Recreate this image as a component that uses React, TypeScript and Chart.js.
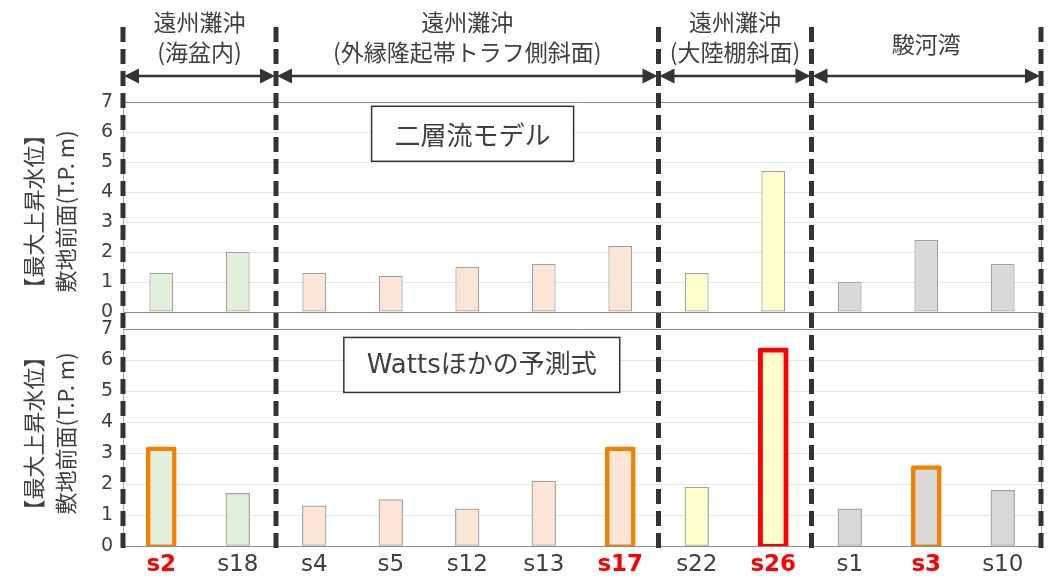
import React, { useEffect, useRef } from "react";
import { Chart, registerables } from "chart.js";

Chart.register(...registerables);

// ---- data ----
const categories = ["s2", "s18", "s4", "s5", "s12", "s13", "s17", "s22", "s26", "s1", "s3", "s10"];
const twoLayerValues = [1.3, 2.0, 1.3, 1.2, 1.5, 1.6, 2.2, 1.3, 4.7, 1.0, 2.4, 1.6];
const wattsValues = [3.1, 1.7, 1.3, 1.5, 1.2, 2.1, 3.1, 1.9, 6.3, 1.2, 2.5, 1.8];
const highlightedLabels = [true, false, false, false, false, false, true, false, true, false, true, false];
const wattsHighlight = ["orange", "", "", "", "", "", "orange", "", "red", "", "orange", ""];
const groupOfCategory = [0, 0, 1, 1, 1, 1, 1, 2, 2, 3, 3, 3];
const groupFills = ["#E2EFDA", "#FBE5D6", "#FFFFCC", "#D9D9D9"];
const groupLabels = [
  ["遠州灘沖", "(海盆内)"],
  ["遠州灘沖", "(外縁隆起帯トラフ側斜面)"],
  ["遠州灘沖", "(大陸棚斜面)"],
  ["駿河湾"],
];
const groupRanges = [
  [0, 1],
  [2, 6],
  [7, 8],
  [9, 11],
];
const panelTitles = ["二層流モデル", "Wattsほかの予測式"];
const yTitle = ["【最大上昇水位】", "敷地前面(T.P. m)"];

const CJK = "'Noto Sans CJK JP', sans-serif";
const LATIN = "'DejaVu Sans', 'Noto Sans CJK JP', sans-serif";
const TEXT = "#404040";
const DARK = "#333333";

const decorPlugin = {
  id: "decor",
  afterDatasetsDraw(chart: any) {
    const ctx = chart.ctx;
    const xs = chart.scales.x;
    const boxes = [
      { scale: chart.scales.yTop, xVal: 4.07, yVal: 5.94, text: panelTitles[0], font: `26px ${CJK}` },
      { scale: chart.scales.yBot, xVal: 4.19, yVal: 5.85, text: panelTitles[1], font: `26px ${LATIN}` },
    ];
    ctx.save();
    for (const b of boxes) {
      const cx = xs.getPixelForValue(b.xVal);
      const cy = b.scale.getPixelForValue(b.yVal);
      ctx.font = b.font;
      const w = ctx.measureText(b.text).width + 46;
      const h = 55;
      ctx.fillStyle = "#FFFFFF";
      ctx.fillRect(cx - w / 2, cy - h / 2, w, h);
      ctx.strokeStyle = DARK;
      ctx.lineWidth = 1.5;
      ctx.strokeRect(cx - w / 2, cy - h / 2, w, h);
      ctx.fillStyle = TEXT;
      ctx.textAlign = "center";
      ctx.textBaseline = "middle";
      ctx.fillText(b.text, cx, cy + 1);
    }
    ctx.restore();
  },
  afterDraw(chart: any) {
    const ctx = chart.ctx;
    const xs = chart.scales.x;
    const area = chart.chartArea;
    ctx.save();
    // right frame line
    ctx.strokeStyle = "#A6A6A6";
    ctx.lineWidth = 1;
    ctx.beginPath();
    ctx.moveTo(area.right + 0.5, area.top);
    ctx.lineTo(area.right + 0.5, area.bottom);
    ctx.stroke();

    const bounds: number[] = [];
    bounds.push(xs.getPixelForValue(-0.5));
    for (const r of groupRanges) bounds.push(xs.getPixelForValue(r[1] + 0.5));

    // dashed separators
    ctx.strokeStyle = DARK;
    ctx.lineWidth = 5;
    ctx.setLineDash([15, 7]);
    for (const bx of bounds) {
      ctx.beginPath();
      ctx.moveTo(bx, 27);
      ctx.lineTo(bx, area.bottom + 2);
      ctx.stroke();
    }
    ctx.setLineDash([]);

    // arrows + group labels
    const ay = 76;
    const headL = 15;
    const headH = 7.5;
    groupRanges.forEach((r, gi) => {
      const x0 = xs.getPixelForValue(r[0] - 0.5);
      const x1 = xs.getPixelForValue(r[1] + 0.5);
      ctx.strokeStyle = DARK;
      ctx.fillStyle = DARK;
      ctx.lineWidth = 2.5;
      ctx.beginPath();
      ctx.moveTo(x0 + headL, ay);
      ctx.lineTo(x1 - headL, ay);
      ctx.stroke();
      ctx.beginPath();
      ctx.moveTo(x0 + 1, ay);
      ctx.lineTo(x0 + 1 + headL, ay - headH);
      ctx.lineTo(x0 + 1 + headL, ay + headH);
      ctx.closePath();
      ctx.fill();
      ctx.beginPath();
      ctx.moveTo(x1 - 1, ay);
      ctx.lineTo(x1 - 1 - headL, ay - headH);
      ctx.lineTo(x1 - 1 - headL, ay + headH);
      ctx.closePath();
      ctx.fill();

      const lines = groupLabels[gi];
      const cx = (x0 + x1) / 2;
      ctx.fillStyle = TEXT;
      ctx.font = `23px ${CJK}`;
      ctx.textAlign = "center";
      ctx.textBaseline = "middle";
      if (lines.length === 2) {
        ctx.fillText(lines[0], cx, 22);
        ctx.fillText(lines[1], cx, 52);
      } else {
        ctx.fillText(lines[0], cx, 44);
      }
    });
    ctx.restore();
  },
};

function barBorderColor(h: string) {
  if (h === "orange") return "#F28100";
  if (h === "red") return "#FF0000";
  return "#A0A0A0";
}

export default function App() {
  const canvasRef = useRef<HTMLCanvasElement | null>(null);

  useEffect(() => {
    if (!canvasRef.current) return;
    const fills = categories.map((_, i) => groupFills[groupOfCategory[i]]);
    const gridColor = (c: any) =>
      c.tick && (c.tick.value === 0 || c.tick.value === 7) ? "#8C8C8C" : "#E6E6E6";
    const yCommon = (min: number, max: number, weight: number, stackWeight: number) => ({
      type: "linear" as const,
      position: "left" as const,
      stack: "panels",
      stackWeight,
      weight,
      min,
      max,
      afterFit: (s: any) => {
        s.width = 123;
      },
      ticks: {
        stepSize: 1,
        autoSkip: false,
        includeBounds: false,
        padding: 10,
        color: TEXT,
        font: { family: LATIN, size: 19 },
      },
      grid: { color: gridColor, lineWidth: 1, drawTicks: false },
      border: { display: true, color: "#A6A6A6" },
      title: {
        display: true,
        text: yTitle,
        color: TEXT,
        font: { family: CJK, size: 22, lineHeight: 1.45 },
        padding: { top: 18, bottom: 0 },
      },
    });

    const chart = new Chart(canvasRef.current, {
      type: "bar",
      data: {
        labels: categories,
        datasets: [
          {
            label: panelTitles[0],
            data: twoLayerValues,
            yAxisID: "yTop",
            grouped: false,
            backgroundColor: fills,
            borderColor: "#A0A0A0",
            borderWidth: 1.2,
            borderSkipped: false,
            barPercentage: 0.31,
            categoryPercentage: 1,
          },
          {
            label: panelTitles[1],
            data: wattsValues,
            yAxisID: "yBot",
            grouped: false,
            backgroundColor: fills,
            borderColor: wattsHighlight.map(barBorderColor),
            borderWidth: wattsHighlight.map((h) => (h === "red" ? 5 : h ? 4.5 : 1.2)),
            inflateAmount: wattsHighlight.map((h) => (h ? 3.5 : 0.33)),
            borderRadius: wattsHighlight.map((h) => (h ? 2 : 0)),
            borderSkipped: false,
            barPercentage: 0.31,
            categoryPercentage: 1,
          },
        ] as any,
      },
      options: {
        responsive: false,
        animation: false,
        devicePixelRatio: 1,
        layout: { padding: { top: 102, right: 16, left: 0, bottom: 0 } },
        plugins: {
          legend: { display: false },
          tooltip: { enabled: false },
          title: { display: false },
        },
        scales: {
          x: {
            type: "category",
            afterFit: (s: any) => {
              s.height = 35;
            },
            grid: { display: false, drawTicks: false },
            border: { display: true, color: "#8C8C8C" },
            ticks: {
              padding: 5,
              color: (c: any) => (highlightedLabels[c.index] ? "#FF0000" : TEXT),
              font: (c: any) => ({
                family: LATIN,
                size: 23,
                weight: highlightedLabels[c.index] ? "bold" : "normal",
              }),
            },
          },
          yTop: yCommon(-0.3, 7, 2, 219),
          yBot: yCommon(0, 7.27, 1, 225),
        } as any,
      },
      plugins: [decorPlugin],
    });
    return () => chart.destroy();
  }, []);

  return (
    <div style={{ position: "absolute", left: 0, top: 0, width: 1057, height: 581, background: "#fff" }}>
      <canvas ref={canvasRef} width={1057} height={581} style={{ display: "block" }} />
    </div>
  );
}
